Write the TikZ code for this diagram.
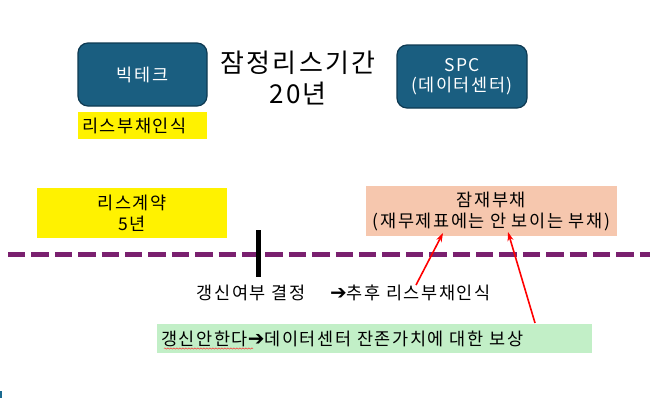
\documentclass[tikz,border=0pt]{standalone}
\usepackage{fontspec}
\setmainfont[LetterSpace=9]{Noto Sans CJK KR}
\newfontfamily\symfont{DejaVu Sans}
\usetikzlibrary{arrows.meta,decorations.pathmorphing}
\definecolor{boxblue}{HTML}{1A5E80}
\definecolor{boxedge}{HTML}{0E3A52}
\definecolor{peach}{HTML}{F6C7AE}
\definecolor{mint}{HTML}{C2EFC7}
\definecolor{timeline}{HTML}{7A206F}
\definecolor{marker}{HTML}{1A6A90}
\newcommand{\harrow}{{\symfont\bfseries\fontsize{20}{20}\selectfont ➔}}
\tikzset{
  x=1pt, y=-1pt,
  bluebox/.style={draw=boxedge, line width=1.2pt, fill=boxblue, rounded corners=10pt,
    text=white, align=center, inner sep=0pt, font=\fontsize{17.5}{20}\selectfont},
  flatbox/.style={inner sep=0pt, align=center, font=\fontsize{17.5}{21}\selectfont},
  plain/.style={inner sep=0pt, font=\fontsize{17.5}{20}\selectfont},
  redarrow/.style={draw=red, line width=1.6pt, -{Stealth[length=9pt,width=6pt]}},
}
\begin{document}
\begin{tikzpicture}
\useasboundingbox (0,0) rectangle (650,410);
% top boxes
\node[bluebox, minimum width=129pt, minimum height=63pt] (bigtech) at (142.5,74.5) {빅테크};
\node[bluebox, minimum width=130pt, minimum height=63pt] (spc) at (462,76.5) {SPC\\(데이터센터)};
\node[inner sep=0pt, align=center, font=\fontsize{26}{31}\selectfont] (title) at (298,78) {잠정리스기간\\20년};
\node[flatbox, fill=yellow, minimum width=129pt, minimum height=27pt, text width=121pt, align=left] (recog) at (142.5,125.5) {리스부채인식};
% middle boxes
\node[flatbox, fill=yellow, minimum width=190pt, minimum height=50pt] (lease) at (132,213) {리스계약\\5년};
\node[flatbox, fill=peach, minimum width=251pt, minimum height=50pt] (latent) at (491.5,211) {잠재부채\\(재무제표에는 안 보이는 부채)};
% timeline
\coordinate (tlstart) at (8,254);
\coordinate (tlend) at (650,254);
\draw[timeline, line width=5pt, dash pattern=on 17.3pt off 6.1pt] (tlstart) -- (tlend);
\coordinate (ticktop) at (258,230);
\coordinate (tickbot) at (258,277);
\draw[black, line width=5pt] (ticktop) -- (tickbot);
% lower texts
\node[plain] (decide) at (251,293) {갱신여부 결정};
\node[plain, anchor=west] (later) at (330,293) {\harrow 추후 리스부채인식};
\node[flatbox, fill=mint, minimum width=435pt, minimum height=29pt, text width=427pt, align=left] (norenew) at (374.5,338.5) {갱신안한다\harrow 데이터센터 잔존가치에 대한 보상};
% spell-check squiggle
\coordinate (sqa) at (164,348.5);
\coordinate (sqb) at (253,348.5);
\draw[red!80, line width=0.5pt, decorate, decoration={snake, amplitude=0.6pt, segment length=3pt}] (sqa) -- (sqb);
% red arrows
\coordinate (a1tail) at (416,285);
\coordinate (a1tip) at (443,233);
\coordinate (a2tail) at (535,323);
\coordinate (a2tip) at (508,232);
\draw[redarrow] (a1tail) -- (a1tip);
\draw[redarrow] (a2tail) -- (a2tip);
% small edge mark
\fill[marker] (0,391) rectangle (1.5,398);
\end{tikzpicture}
\end{document}
